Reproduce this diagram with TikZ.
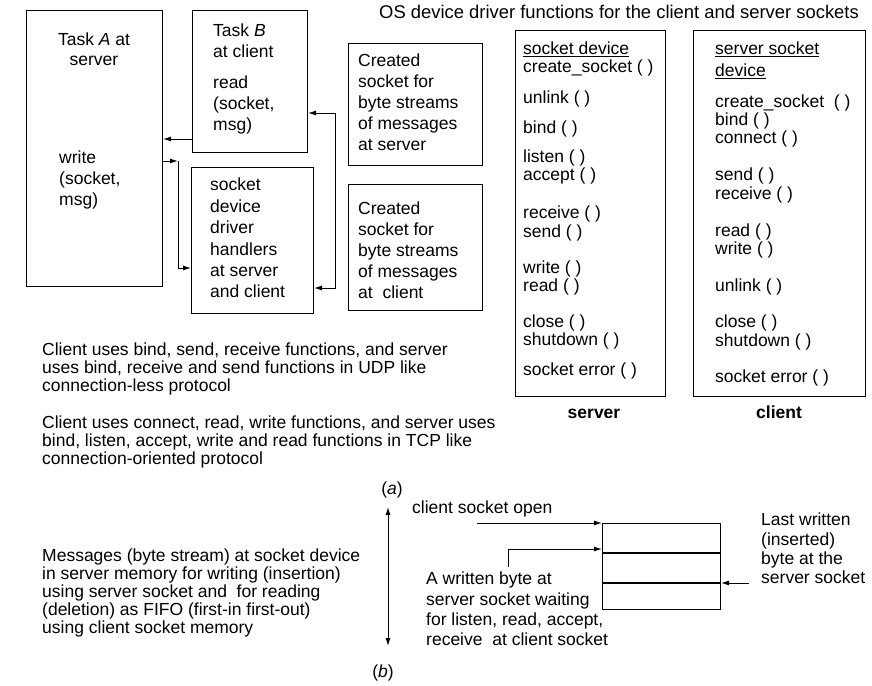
\documentclass[tikz,border=0pt]{standalone}
\usepackage{fontspec}
\setmainfont{Liberation Sans}
\usetikzlibrary{arrows.meta}
\newcommand{\ftext}{\fontsize{17.5}{18}\selectfont}
\newcommand{\fboxt}{\fontsize{17.5}{21}\selectfont}

\tikzset{
  box/.style={draw, line width=1pt, anchor=north west, inner sep=0pt},
  txt/.style={font=\ftext, align=left, anchor=north west, inner sep=0pt},
  btxt/.style={font=\fboxt, align=left, anchor=north west, inner sep=0pt},
  fn/.style={font=\ftext, anchor=base west, inner sep=0pt},
  arr/.style={line width=1pt, -{Latex[length=8pt,width=5pt]}},
  darr/.style={line width=1pt, {Latex[length=8pt,width=5pt]}-{Latex[length=8pt,width=5pt]}},
}

\begin{document}
\begin{tikzpicture}[x=1pt, y=-1pt]
  \useasboundingbox (0,0) rectangle (872,685);

  % (a) tasks and sockets
  \node[box, minimum width=136pt, minimum height=276pt] (taskA) at (26,10) {};
  \node[box, minimum width=115pt, minimum height=142pt] (taskB) at (192,10) {};
  \node[box, minimum width=122pt, minimum height=146pt] (drv) at (191,167) {};
  \node[box, minimum width=134pt, minimum height=122pt] (sockS) at (348,43) {};
  \node[box, minimum width=134pt, minimum height=126pt] (sockC) at (348,184) {};

  \node[btxt, align=center, anchor=north, font=\fontsize{17.5}{20}\selectfont] (taskAname) at (94,33) {Task \textit{A} at\\server};
  \node[btxt] (taskAwr) at (59,151) {write\\(socket,\\msg)};
  \node[btxt] (taskBname) at (213,24) {Task \textit{B}\\at client};
  \node[btxt] (taskBrd) at (213,76) {read\\(socket,\\msg)};
  \node[btxt, font=\fontsize{17.5}{21.4}\selectfont] (drvtext) at (210,178) {socket\\device\\driver\\handlers\\at server\\and client};
  \node[btxt] (sockStext) at (358,54) {Created\\socket for\\byte streams\\of messages\\at server};
  \node[btxt] (sockCtext) at (358,202) {Created\\socket for\\byte streams\\of messages\\at~ client};

  \draw[arr] ([yshift=14pt]taskB.south west) coordinate (bA) -- (taskA.east |- bA);
  \draw[arr] ([yshift=126pt]taskA.south east) -- ++(15,0) coordinate (aK);
  \draw[arr] (aK) |- ([yshift=46pt]drv.south west);
  \draw[darr] ([yshift=40pt]taskB.south east) -- ++(27,0) |- ([yshift=26pt]drv.south east);

  % OS functions
  \node[txt, font=\fontsize{18.4}{18}\selectfont] (title) at (379,5) {OS device driver functions for the client and server sockets};
  \node[box, minimum width=150pt, minimum height=366pt] (srvfn) at (515,30) {};
  \node[box, minimum width=172pt, minimum height=366pt] (clifn) at (693,30) {};

  \foreach \y/\t [count=\i] in {55/\underline{socket device}, 73/create\_socket ( ), 103/unlink ( ),
      133/bind ( ), 162/listen ( ), 180/accept ( ), 218/receive ( ), 237/send ( ),
      273/write ( ), 291/read ( ), 327/close ( ), 345/shutdown ( ), 375/socket error ( )}
    \node[fn] (srv\i) at (523,\y) {\t};
  \foreach \y/\t [count=\i] in {55/\underline{server socket}, 77/\underline{device}, 107/create\_socket~ ( ),
      125/bind ( ), 143/connect ( ), 180/send ( ), 199/receive ( ), 236/read ( ),
      254/write ( ), 291/unlink ( ), 327/close ( ), 346/shutdown ( ), 382/socket error ( )}
    \node[fn] (cli\i) at (715,\y) {\t};

  \node[font=\ftext\bfseries, anchor=base, inner sep=0pt] (srvlbl) at (594,418) {server};
  \node[font=\ftext\bfseries, anchor=base, inner sep=0pt] (clilbl) at (779,418) {client};

  \node[txt] (udp) at (42,343) {Client uses bind, send, receive functions, and server\\uses bind, receive and send functions in UDP like\\connection-less protocol};
  \node[txt] (tcp) at (42,416) {Client uses connect, read, write functions, and server uses\\bind, listen, accept, write and read functions in TCP like\\connection-oriented protocol};
  \node[font=\ftext, anchor=base, inner sep=0pt] (capa) at (392,494) {(\textit{a})};

  % (b) FIFO
  \node[txt] (msgs) at (42,549) {Messages (byte stream) at socket device\\in server memory for writing (insertion)\\using server socket and~ for reading\\(deletion) as FIFO (first-in first-out)\\using client socket memory};
  \coordinate (top) at (388,507);
  \coordinate (bot) at (388,646);
  \draw[darr] (top) -- (bot);

  \node[box, minimum width=118pt, minimum height=29pt] (fifo1) at (602,523) {};
  \node[box, minimum width=118pt, minimum height=29pt] (fifo2) at (fifo1.south west) {};
  \node[box, minimum width=118pt, minimum height=26pt] (fifo3) at (fifo2.south west) {};
  \draw[line width=1.6pt] (fifo2.north west) -- (fifo2.north east);
  \draw[line width=1.6pt] (fifo3.north west) -- (fifo3.north east);

  \node[fn] (open) at (412,513) {client socket open};
  \node[txt, font=\fontsize{17.5}{20.2}\selectfont] (wait) at (426,572) {A written byte at\\server socket waiting\\for listen, read, accept,\\receive~ at client socket};
  \node[txt, font=\fontsize{17.5}{19.3}\selectfont] (last) at (761,513) {Last written\\(inserted)\\byte at the\\server socket};

  \draw[arr] ([xshift=-5pt]open.south |- fifo1.north west) -- (fifo1.north west);
  \draw[arr] ([xshift=82pt,yshift=5pt]wait.north west) |- ([yshift=4pt]fifo2.north west);
  \draw[arr] ([xshift=-12pt]last.west |- fifo3.north east) -- (fifo3.north east);

  \node[font=\ftext, anchor=base, inner sep=0pt] (capb) at (383,677) {(\textit{b})};
\end{tikzpicture}
\end{document}
